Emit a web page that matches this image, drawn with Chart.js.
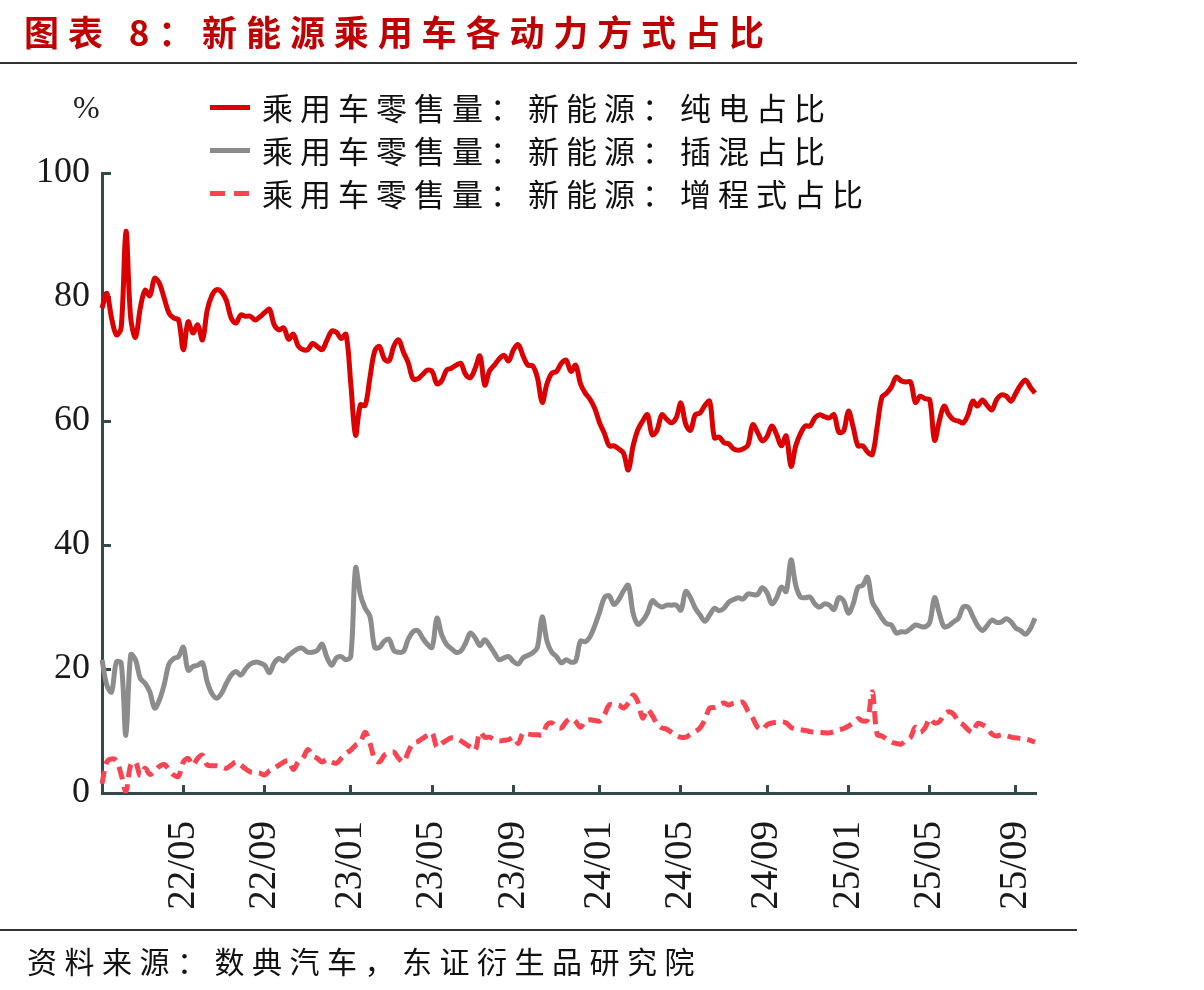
<!DOCTYPE html>
<html>
<head>
<meta charset="utf-8">
<script src="https://cdn.jsdelivr.net/npm/chart.js@4.4.1/dist/chart.umd.min.js"></script>
<style>
html,body{margin:0;padding:0;background:#fff;}
#wrap{position:relative;width:1204px;height:990px;overflow:hidden;background:#fff;}
#c{position:absolute;left:0;top:0;}
.t{position:absolute;white-space:nowrap;font-family:"Noto Sans CJK SC","Noto Sans",sans-serif;z-index:2;}
#title{left:24px;top:12px;font-size:35px;line-height:38px;font-weight:bold;color:#C00000;letter-spacing:8.9px;}
#source{left:27px;top:943px;font-size:30px;line-height:34px;color:#111;letter-spacing:7.5px;}
.rule{position:absolute;left:0;width:1077px;height:2px;background:#333;z-index:2;}
#pct{left:73px;top:90px;font-family:"Liberation Serif",serif;font-size:32px;line-height:34px;color:#222;}
.lg{left:262px;font-size:31px;line-height:34px;color:#111;letter-spacing:7px;}
.mk{position:absolute;left:210px;width:40px;height:5px;z-index:2;}
</style>
</head>
<body>
<div id="wrap">
  <canvas id="c" width="1204" height="990"></canvas>
  <div class="t" id="title">图表 8：新能源乘用车各动力方式占比</div>
  <div class="rule" style="top:62px;"></div>
  <div class="t" id="pct">%</div>
  <div class="mk" style="top:105px;background:#DC0000;"></div>
  <div class="t lg" style="top:90px;">乘用车零售量：新能源：纯电占比</div>
  <div class="mk" style="top:148px;background:#8C8C8C;"></div>
  <div class="t lg" style="top:133px;">乘用车零售量：新能源：插混占比</div>
  <div class="mk" style="top:191px;background:repeating-linear-gradient(to right,#F94452 0 15px,transparent 15px 24px);"></div>
  <div class="t lg" style="top:176px;">乘用车零售量：新能源：增程式占比</div>
  <div class="rule" style="top:929px;"></div>
  <div class="t" id="source">资料来源：数典汽车，东证衍生品研究院</div>
</div>
<script>
// ---- data ----
const firstWeekEnd = '2022-01-08';   // weekly observations (week ending)
const weekCount = 196;
const tickLabels = ['22/05','22/09','23/01','23/05','23/09','24/01','24/05','24/09','25/01','25/05','25/09'];
const yTicks = [0, 20, 40, 60, 80, 100];

const bevShare = [
 78.2,80.6,76.6,73.9,75,90.6,76.6,73.5,78.2,81.1,
 80.2,83,82.2,79.8,77.4,76.6,76.3,71.5,76,74.2,
 75.5,73.1,77.9,80.3,81.2,80.8,79.4,76.6,75.8,77.1,
 76.9,76.9,76.3,76.8,77.5,78,75.5,74.7,75,73.2,
 74,72.1,71.5,71.5,72.5,72,71.5,73,74.5,74.3,
 73.3,74,66,57.7,62.6,62.5,67,71.3,72,70,
 69.7,72.1,73.1,71.1,69.4,66.8,66.8,67.5,68.2,68,
 66,66.5,68.2,68.5,69,69.3,67.5,67,68.5,70.5,
 65.8,68.1,69,70,70.6,69.7,71.5,72.3,70.5,69,
 68.9,67,63,66,67.7,68,69.3,69.8,68,69,
 66,64.5,63.5,62,59.7,58,56,56,55.5,54.8,
 52.1,56,58.6,60,61,57.8,58.5,61,60.3,59.7,
 60.5,62.9,59.5,58.5,61,61.3,62.5,63.2,57.3,57.4,
 56.5,56.3,55.5,55.3,55.5,56.1,59.4,58.2,56.8,57.5,
 59.2,57.8,56,57.6,52.7,56,58,59.2,59.2,60.5,
 61,60.7,60.5,61,58.2,58.4,61.6,59,56,56,
 55,54.6,59,63.8,64.5,65.5,67.1,66.5,66.3,66.3,
 63,64,63.6,63.4,56.9,60,62.4,61,60.2,60,
 59.7,61,63.2,62.4,63.4,62.5,61.8,63.5,64.2,64,
 63.2,64.5,65.8,66.6,65.5,64.5
];

const phevShare = [
 21.5,17.4,16.3,21.1,21,9.3,22.3,21.5,18.5,17.7,
 16.3,13.7,15,17.5,20.8,21.7,22,23.5,19.8,20.4,
 20.6,21,17.9,16,15.3,16.1,17.7,19,19.6,19,
 20,20.8,21.1,21,20.6,19.4,21,21.7,21.3,22.2,
 22.8,23.3,23.3,22.7,22.7,23,24,21.9,20.6,21.8,
 22,21.5,22,36.3,32,29.8,28.5,23.5,23.5,24.5,
 24.8,23,22.7,22.8,24.8,26,26.2,25,24,23.5,
 28.2,25.5,24,23.3,22.7,22.9,24.2,25.8,25,23.8,
 24.7,23.8,22.6,21.5,21.8,22,21.2,20.8,21.8,22.2,
 22.6,23.5,28.4,24.5,22.7,22,21,21.5,21.1,21.3,
 24.5,24.4,25.2,27,29.2,31.5,31.8,30.4,31.2,32.6,
 33.5,29,27.2,27.8,29,31,30.4,30,30.3,30.3,
 30.3,29.5,32.5,31.5,29.8,28.7,27.7,28.7,29.8,29.4,
 29.8,30.8,31.2,31.5,31.3,32.1,32,32,33.1,32.3,
 30.5,31.5,33.2,32.5,37.6,33.5,31.6,31.5,31.6,30.5,
 30,30.5,30.3,29.6,31.5,31,29,30.5,33.2,33.5,
 34.8,30.8,29.5,28.2,27.3,27.1,25.8,26,26,26.5,
 27.1,26.9,26.8,27.5,31.5,29,26.8,27,27.6,28.2,
 30,30,28.5,27,26.2,27,27.9,27.5,27.6,28.1,
 27.6,26.6,26.2,25.6,26.5,28.2
];

const erevShare = [
 1.5,5,5.5,5.2,3,0.3,4.5,5,2.8,4,
 3,3.5,4.3,4.6,3.8,2.9,2.7,5,5.6,4.5,
 5.6,6.1,4.5,4.4,4.4,4.2,4,4.5,5,4.5,
 3.9,3.4,3.3,3.2,2.9,3.6,4,4.5,5,5.2,
 3.8,5,5.6,7,6,5.6,5,5.4,5,4.8,
 5.6,6.4,6.9,7.7,8.2,9.8,8,5.5,5,6.1,
 6.5,6.6,5.6,5,6.6,8,8.3,8.8,9.3,9.7,
 7.4,8,8.5,8.9,8.8,8.4,7.9,7.4,6.9,9.8,
 9,9,8.6,8.4,8.5,8.6,9,8,9.7,9.5,
 9.4,9.4,9.4,11,11.3,10.6,10.5,11.5,12,11.5,
 10.6,11.6,11.8,11.7,11.6,12.6,14.2,14.2,14.2,13.7,
 14.5,15.8,14.7,12.1,13.5,12.5,11.2,10.5,10.3,9.8,
 9.3,9,9,9.5,9.9,10.5,11.8,13.7,13.8,14.2,
 14.5,14.2,14.5,14.6,14.6,13.2,12.1,10.6,10.2,11,
 11.3,11.4,11.5,11.3,10.6,10.3,10.2,10.1,9.9,9.8,
 9.8,9.7,9.7,9.9,10.2,10.4,10.8,11.3,12,11.6,
 11.8,16.3,9.5,9.2,8.7,8.2,8,7.9,8.5,9,
 10.6,9.8,10.5,12,11.3,11.5,12.6,13.1,12.7,11.5,
 11,10.2,9.8,11.2,11,10.5,9.5,9.2,9.4,9.3,
 9,8.9,8.8,8.7,8.5,8.2
];

// ---- categories (weekly dates) ----
const weeks = [];
(function(){
  const d0 = new Date(firstWeekEnd + 'T00:00:00Z');
  for (let i = 0; i < weekCount; i++) {
    const d = new Date(d0.getTime() + i * 7 * 86400000);
    weeks.push(d.toISOString().slice(0, 10));
  }
})();

function labelFor(idx) {
  const s = weeks[idx];
  if (!s) return '';
  const day = +s.slice(8, 10);
  const lab = s.slice(2, 4) + '/' + s.slice(5, 7);
  return (day <= 7 && tickLabels.indexOf(lab) >= 0) ? lab : '';
}

const axisColor = '#34494A';
const serif = "'Liberation Serif','Times New Roman',serif";

new Chart(document.getElementById('c'), {
  type: 'line',
  data: {
    labels: weeks,
    datasets: [
      { label: '乘用车零售量：新能源：纯电占比', data: bevShare, borderColor: '#DC0000', borderWidth: 5, pointRadius: 0, tension: 0.35, fill: false },
      { label: '乘用车零售量：新能源：插混占比', data: phevShare, borderColor: '#8C8C8C', borderWidth: 5, pointRadius: 0, tension: 0.35, fill: false },
      { label: '乘用车零售量：新能源：增程式占比', data: erevShare, borderColor: '#F94452', borderWidth: 5, borderDash: [13, 7], pointRadius: 0, tension: 0.35, fill: false }
    ]
  },
  options: {
    responsive: false,
    animation: false,
    layout: { padding: { top: 173, right: 169, left: 0, bottom: 0 } },
    plugins: { legend: { display: false }, tooltip: { enabled: false } },
    scales: {
      x: {
        type: 'category',
        offset: false,
        afterFit: function(s){ s.height = 197; },
        border: { display: true, color: axisColor, width: 3 },
        grid: {
          drawOnChartArea: false, drawTicks: true, tickLength: -8, lineWidth: 3,
          color: function(c){ return (c.tick && c.tick.label) ? axisColor : 'rgba(0,0,0,0)'; }
        },
        ticks: {
          autoSkip: false, minRotation: 90, maxRotation: 90, padding: 36,
          color: '#1a1a1a', font: { family: serif, size: 39 },
          callback: function(v, i){ return labelFor(i); }
        }
      },
      y: {
        min: 0, max: 100,
        afterFit: function(s){ s.width = 102; },
        afterBuildTicks: function(s){ s.ticks = yTicks.map(function(v){ return { value: v }; }); },
        border: { display: true, color: axisColor, width: 3 },
        grid: { drawOnChartArea: false, drawTicks: true, tickLength: -9, lineWidth: 3, color: axisColor },
        ticks: { padding: 21, color: '#1a1a1a', font: { family: serif, size: 36 } }
      }
    }
  }
});
</script>
</body>
</html>
